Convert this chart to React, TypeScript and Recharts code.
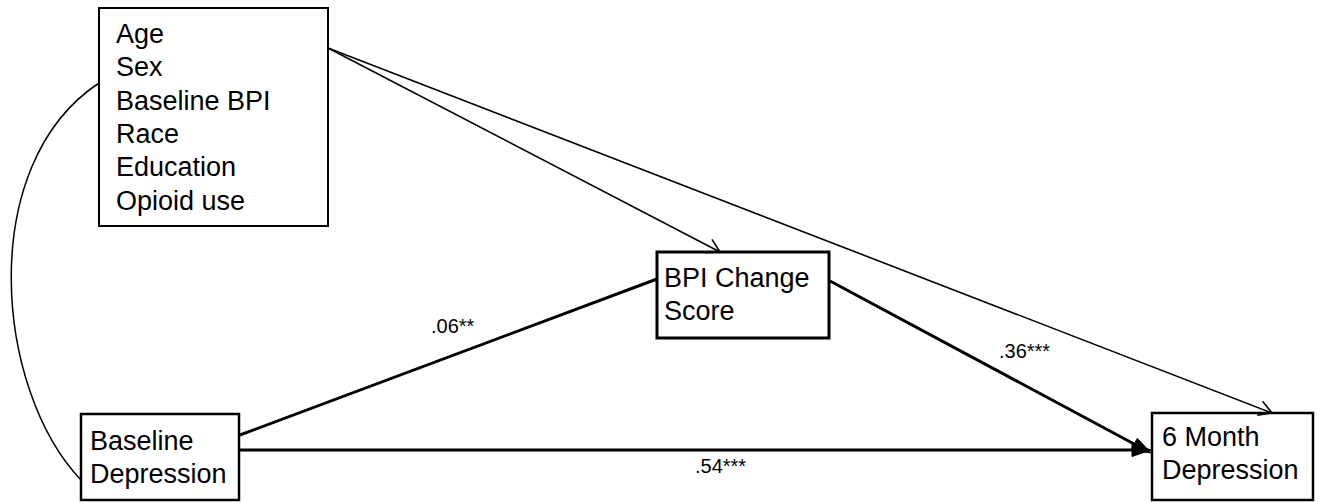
import React from 'react';
import { ComposedChart, XAxis, YAxis, ReferenceArea, ReferenceLine, Scatter } from 'recharts';

// ---------- data ----------
const nodeIds = ['covariates', 'bpiChange', 'baselineDep', 'sixMonthDep'];
const nodeLabels: Record<string, string[]> = {
  covariates: ['Age', 'Sex', 'Baseline BPI', 'Race', 'Education', 'Opioid use'],
  bpiChange: ['BPI Change', 'Score'],
  baselineDep: ['Baseline', 'Depression'],
  sixMonthDep: ['6 Month', 'Depression'],
};
const pathEdges = [
  { from: 'baselineDep', to: 'bpiChange', coef: '.06**' },
  { from: 'bpiChange', to: 'sixMonthDep', coef: '.36***' },
  { from: 'baselineDep', to: 'sixMonthDep', coef: '.54***' },
];
const controlEdges = [
  { from: 'covariates', to: 'bpiChange' },
  { from: 'covariates', to: 'sixMonthDep' },
];
const covarianceEdges = [{ from: 'covariates', to: 'baselineDep' }];

// ---------- layout (chart units, 1 unit = 1 px) ----------
const W = 1321;
const H = 502;
const boxLayout: Record<string, { x1: number; y1: number; x2: number; y2: number; tx: number; ty: number; sw: number }> = {
  covariates: { x1: 99, y1: 8, x2: 328, y2: 226, tx: 116, ty: 43, sw: 2 },
  bpiChange: { x1: 657, y1: 252, x2: 829, y2: 338, tx: 664, ty: 287, sw: 3 },
  baselineDep: { x1: 81, y1: 414, x2: 239, y2: 500, tx: 90, ty: 450, sw: 2.5 },
  sixMonthDep: { x1: 1152, y1: 413, x2: 1313, y2: 500, tx: 1162, ty: 446, sw: 2.5 },
};
const edgeLayout: Record<string, { a: [number, number]; b: [number, number] }> = {
  'covariates-bpiChange': { a: [328, 48], b: [720, 252] },
  'covariates-sixMonthDep': { a: [328, 48], b: [1272, 413] },
  'baselineDep-bpiChange': { a: [240, 435], b: [657, 279] },
  'bpiChange-sixMonthDep': { a: [830, 281], b: [1151, 453] },
  'baselineDep-sixMonthDep': { a: [240, 450], b: [1151, 450] },
  'covariates-baselineDep': { a: [99, 83], b: [81, 480] },
};
const coefLayout: Record<string, [number, number]> = {
  'baselineDep-bpiChange': [431, 333],
  'bpiChange-sixMonthDep': [999, 358],
  'baselineDep-sixMonthDep': [695, 473],
};
const arrowOnPath: Record<string, boolean> = {
  'baselineDep-bpiChange': false,
  'bpiChange-sixMonthDep': true,
  'baselineDep-sixMonthDep': true,
};

const FONT = '"Liberation Sans", Arial, Helvetica, sans-serif';
const LINE_GAP = 33.3;

const key = (e: { from: string; to: string }) => `${e.from}-${e.to}`;

// ---------- shapes ----------
const FilledArrowLine = (p: any) => {
  const { x1, y1, x2, y2 } = p;
  const ang = Math.atan2(y2 - y1, x2 - x1);
  const L = 19;
  const hw = 6.5;
  const bx = x2 - L * Math.cos(ang);
  const by = y2 - L * Math.sin(ang);
  const px = -Math.sin(ang) * hw;
  const py = Math.cos(ang) * hw;
  return (
    <g>
      <line x1={x1} y1={y1} x2={bx + 2 * Math.cos(ang)} y2={by + 2 * Math.sin(ang)} stroke="#000" strokeWidth={3} />
      <path d={`M${x2},${y2} L${bx + px},${by + py} L${bx - px},${by - py} Z`} fill="#000" stroke="#000" strokeWidth={1} />
    </g>
  );
};

const PlainThickLine = (p: any) => {
  const { x1, y1, x2, y2 } = p;
  return <line x1={x1} y1={y1} x2={x2} y2={y2} stroke="#000" strokeWidth={3} />;
};

const OpenArrowLine = (p: any) => {
  const { x1, y1, x2, y2 } = p;
  const ang = Math.atan2(y2 - y1, x2 - x1);
  const L = 15;
  const sp = Math.PI / 6;
  const a1 = ang + Math.PI - sp;
  const a2 = ang + Math.PI + sp;
  return (
    <g>
      <line x1={x1} y1={y1} x2={x2} y2={y2} stroke="#000" strokeWidth={1.6} />
      <path
        d={`M${x2 + L * Math.cos(a1)},${y2 + L * Math.sin(a1)} L${x2},${y2} L${x2 + L * Math.cos(a2)},${y2 + L * Math.sin(a2)}`}
        fill="none"
        stroke="#000"
        strokeWidth={1.6}
      />
    </g>
  );
};

const CovarianceCurve = (p: any) => {
  const { x1, y1, x2, y2 } = p;
  const c1x = x1 - 124;
  const c1y = y1 + 82;
  const c2x = x2 - 86;
  const c2y = y2 - 90;
  return (
    <path
      d={`M${x1},${y1} C${c1x},${c1y} ${c2x},${c2y} ${x2},${y2}`}
      fill="none"
      stroke="#000"
      strokeWidth={1.5}
    />
  );
};

const BoxText = (p: any) => {
  const { cx, cy, payload } = p;
  if (cx == null || cy == null) return null;
  return (
    <text x={cx} y={cy} fontFamily={FONT} fontSize={27} fill="#000">
      {payload.lines.map((l: string, i: number) => (
        <tspan key={i} x={cx} y={cy + i * LINE_GAP}>
          {l}
        </tspan>
      ))}
    </text>
  );
};

const CoefText = (p: any) => {
  const { cx, cy, payload } = p;
  if (cx == null || cy == null) return null;
  return (
    <text x={cx} y={cy} fontFamily={FONT} fontSize={20} fill="#000">
      {payload.text}
    </text>
  );
};

const textData = nodeIds.map((id) => ({ x: boxLayout[id].tx, y: boxLayout[id].ty, lines: nodeLabels[id] }));
const coefData = pathEdges.map((e) => ({ x: coefLayout[key(e)][0], y: coefLayout[key(e)][1], text: e.coef }));

export default function App() {
  return (
    <div style={{ position: 'absolute', left: 0, top: 0, width: W, height: H, background: '#fff' }}>
      <ComposedChart width={W} height={H} margin={{ top: 0, right: 0, bottom: 0, left: 0 }}>
        <XAxis type="number" dataKey="x" domain={[0, W]} hide allowDataOverflow />
        <YAxis type="number" dataKey="y" domain={[0, H]} reversed hide allowDataOverflow />

        {covarianceEdges.map((e) => {
          const g = edgeLayout[key(e)];
          return (
            <ReferenceLine
              key={key(e)}
              segment={[{ x: g.a[0], y: g.a[1] }, { x: g.b[0], y: g.b[1] }]}
              shape={CovarianceCurve}
              ifOverflow="visible"
            />
          );
        })}

        {controlEdges.map((e) => {
          const g = edgeLayout[key(e)];
          return (
            <ReferenceLine
              key={key(e)}
              segment={[{ x: g.a[0], y: g.a[1] }, { x: g.b[0], y: g.b[1] }]}
              shape={OpenArrowLine}
              ifOverflow="visible"
            />
          );
        })}

        {pathEdges.map((e) => {
          const g = edgeLayout[key(e)];
          return (
            <ReferenceLine
              key={key(e)}
              segment={[{ x: g.a[0], y: g.a[1] }, { x: g.b[0], y: g.b[1] }]}
              shape={arrowOnPath[key(e)] ? FilledArrowLine : PlainThickLine}
              ifOverflow="visible"
            />
          );
        })}

        {nodeIds.map((id) => {
          const b = boxLayout[id];
          return (
            <ReferenceArea
              key={id}
              x1={b.x1}
              x2={b.x2}
              y1={b.y1}
              y2={b.y2}
              fill="none"
              fillOpacity={0}
              stroke="#000"
              strokeWidth={b.sw}
              ifOverflow="visible"
            />
          );
        })}

        <Scatter data={textData} dataKey="y" shape={BoxText} isAnimationActive={false} />
        <Scatter data={coefData} dataKey="y" shape={CoefText} isAnimationActive={false} />
      </ComposedChart>
    </div>
  );
}
